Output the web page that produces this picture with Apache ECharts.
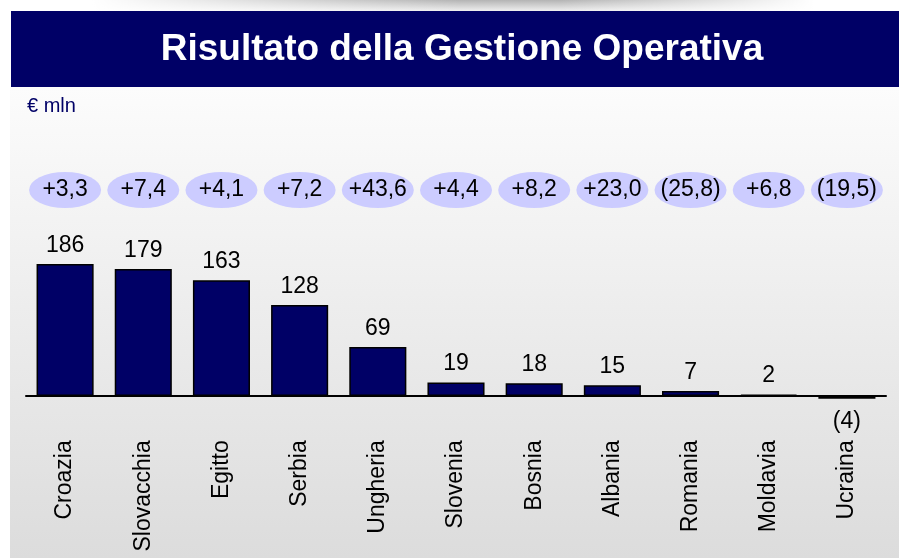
<!DOCTYPE html>
<html>
<head>
<meta charset="utf-8">
<title>Risultato della Gestione Operativa</title>
<script src="https://cdn.jsdelivr.net/npm/echarts@6/dist/echarts.min.js"></script>
<style>
  html, body { margin: 0; padding: 0; background: #ffffff; }
  #chart { width: 899px; height: 558px; }
</style>
</head>
<body>
<div id="chart"></div>
<script>
// Risultato della Gestione Operativa per paese (€ mln)
const countries = ['Croazia', 'Slovacchia', 'Egitto', 'Serbia', 'Ungheria', 'Slovenia',
                   'Bosnia', 'Albania', 'Romania', 'Moldavia', 'Ucraina'];
const results = [186, 179, 163, 128, 69, 19, 18, 15, 7, 2, -4];
// Variazione rispetto al periodo precedente (€ mln)
const changes = [3.3, 7.4, 4.1, 7.2, 43.6, 4.4, 8.2, 23.0, -25.8, 6.8, -19.5];

const titleText = 'Risultato della Gestione Operativa';
const unitText = '€ mln';

const NAVY = '#000066';
const FONT = '"Liberation Sans", Arial, sans-serif';

function fmtValue(v) {
  return v < 0 ? '(' + Math.abs(v) + ')' : String(v);
}
function fmtChange(v) {
  const s = Math.abs(v).toFixed(1).replace('.', ',');
  return v < 0 ? '(' + s + ')' : '+' + s;
}

const chart = echarts.init(document.getElementById('chart'), null, { renderer: 'canvas' });

const ellipse = 'path://M0,50 A50,50 0 1,1 100,50 A50,50 0 1,1 0,50 Z';

chart.setOption({
  animation: false,
  backgroundColor: '#ffffff',
  textStyle: { fontFamily: FONT },
  graphic: [
    // soft shadow above the title band
    {
      type: 'rect', z: -10, silent: true,
      shape: { x: 0, y: 0, width: 899, height: 12 },
      style: {
        fill: new echarts.graphic.LinearGradient(0, 0, 0, 1, [
          { offset: 0, color: '#b4b4b4' },
          { offset: 1, color: '#f4f4f4' }
        ])
      }
    },
    {
      type: 'rect', z: -9, silent: true,
      shape: { x: 0, y: 0, width: 460, height: 12 },
      style: {
        fill: new echarts.graphic.LinearGradient(0, 0, 1, 0, [
          { offset: 0, color: 'rgba(255,255,255,1)' },
          { offset: 0.2, color: 'rgba(255,255,255,1)' },
          { offset: 1, color: 'rgba(255,255,255,0)' }
        ])
      }
    },
    {
      type: 'rect', z: -9, silent: true,
      shape: { x: 560, y: 0, width: 339, height: 12 },
      style: {
        fill: new echarts.graphic.LinearGradient(0, 0, 1, 0, [
          { offset: 0, color: 'rgba(255,255,255,0)' },
          { offset: 0.75, color: 'rgba(255,255,255,1)' },
          { offset: 1, color: 'rgba(255,255,255,1)' }
        ])
      }
    },
    // chart panel background
    {
      type: 'rect', z: -10, silent: true,
      shape: { x: 10, y: 87, width: 889, height: 471 },
      style: {
        fill: new echarts.graphic.LinearGradient(0, 0, 0, 1, [
          { offset: 0, color: '#fcfcfc' },
          { offset: 1, color: '#dcdcdc' }
        ])
      }
    },
    // title band
    {
      type: 'rect', z: -5, silent: true,
      shape: { x: 11, y: 11, width: 888, height: 76 },
      style: { fill: NAVY }
    },
    {
      type: 'text', silent: true,
      x: 462, y: 50,
      style: {
        text: titleText, fill: '#ffffff',
        font: 'bold 37px ' + FONT,
        textAlign: 'center', textVerticalAlign: 'middle'
      }
    },
    {
      type: 'text', silent: true,
      x: 27, y: 106,
      style: {
        text: unitText, fill: NAVY,
        font: '20px ' + FONT,
        textAlign: 'left', textVerticalAlign: 'middle'
      }
    }
  ],
  grid: [
    { left: 26, right: 13, top: 254, bottom: 133.7, outerBoundsMode: 'none', containLabel: false },
    { left: 26, right: 13, top: 172, bottom: 350, outerBoundsMode: 'none', containLabel: false }
  ],
  xAxis: [
    {
      type: 'category', gridIndex: 0, data: countries,
      axisLine: { onZero: true, lineStyle: { color: '#000000', width: 2 } },
      axisTick: { show: false },
      axisLabel: {
        rotate: 90, margin: 16, interval: 0,
        color: '#000000', fontSize: 23, fontFamily: FONT
      }
    },
    {
      type: 'category', gridIndex: 1, data: countries,
      show: false
    }
  ],
  yAxis: [
    { type: 'value', gridIndex: 0, min: -40, max: 200, interval: 40, show: false },
    { type: 'value', gridIndex: 1, min: -1, max: 1, interval: 1, show: false }
  ],
  series: [
    {
      type: 'bar', xAxisIndex: 0, yAxisIndex: 0,
      data: results.map(v => v < 0
        ? { value: v, label: { position: 'bottom', distance: 11 } }
        : v),
      barWidth: '73%',
      itemStyle: { color: NAVY, borderColor: '#000000', borderWidth: 1.5 },
      label: {
        show: true,
        position: 'top',
        distance: 7,
        color: '#000000', fontSize: 23, fontFamily: FONT,
        formatter: p => fmtValue(p.value)
      },
      emphasis: { disabled: true }
    },
    {
      type: 'scatter', xAxisIndex: 1, yAxisIndex: 1,
      data: countries.map(c => [c, 0]),
      symbol: ellipse,
      symbolSize: [72, 36],
      itemStyle: { color: '#ccccff', opacity: 1 },
      label: {
        show: true, position: 'inside',
        color: '#000000', fontSize: 23, fontFamily: FONT,
        formatter: p => fmtChange(changes[p.dataIndex])
      },
      emphasis: { disabled: true }
    }
  ]
});
</script>
</body>
</html>
